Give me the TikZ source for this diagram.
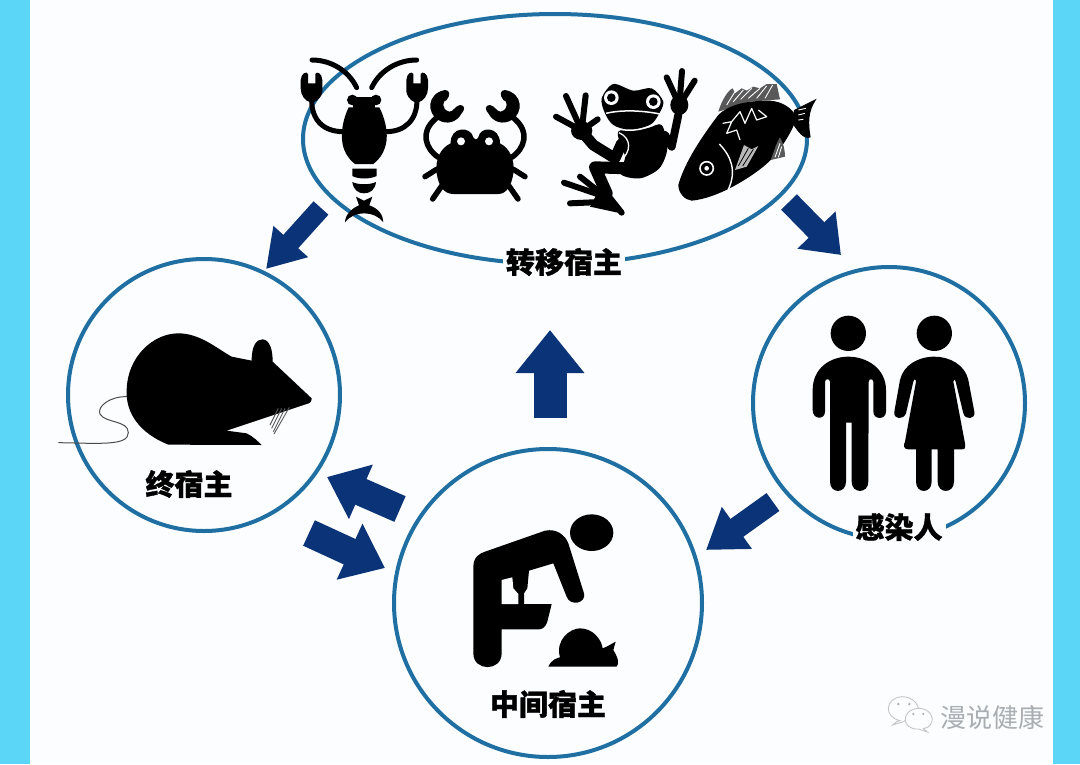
\documentclass[tikz,border=0pt]{standalone}
\usepackage{fontspec}
\newfontfamily\cjk[BoldFeatures={FakeBold=1.1}]{Noto Sans CJK SC}
\usetikzlibrary{arrows.meta}
\definecolor{bgpale}{HTML}{FBFDFE}
\definecolor{strip}{HTML}{5CD6F6}
\definecolor{ring}{HTML}{1F6FA3}
\definecolor{blockblue}{HTML}{0B3478}
\definecolor{wm}{HTML}{A9AEB3}
\tikzset{
  crop/.style 2 args={shift={(#1,#2)},x=.33333pt,y=-.33333pt},
  hostring/.style={circle,draw=ring,line width=4pt,inner sep=0pt},
  hostlabel/.style={font=\cjk\bfseries\fontsize{29}{29}\selectfont,text=black,inner sep=2pt},
  blockarrow/.style n args={3}{draw=blockblue,line width=#1,-{Triangle[length=#2,width=#3,fill=blockblue]}},
  limb/.style={draw=black,line cap=round,line join=round},
}
\begin{document}
\begin{tikzpicture}[x=1pt,y=-1pt]
\useasboundingbox (0,0) rectangle (1080,764);
\fill[bgpale] (0,0) rectangle (1080,764);
\fill[strip] (0,0) rectangle (30,764);
\fill[strip] (1053,0) rectangle (1080,764);

% hosts
\node[hostring,minimum size=272pt] (final) at (204,395) {};
\node[hostring,minimum size=272pt] (human) at (889,403) {};
\node[hostring,minimum size=308pt] (mid) at (548,603) {};
\draw[ring,line width=4pt] (555,139) ellipse [x radius=252,y radius=125];

% block arrows
\coordinate (a1s) at (321,208); \coordinate (a1e) at (266,269);
\coordinate (a2s) at (789,202); \coordinate (a2e) at (841,255);
\coordinate (a3s) at (550,418); \coordinate (a3e) at (550,330);
\coordinate (a4s) at (773,502); \coordinate (a4e) at (706,550);
\coordinate (a5s) at (400,509); \coordinate (a5e) at (327,477);
\coordinate (a6s) at (309,533); \coordinate (a6e) at (385,568);
\draw[blockarrow={20pt}{37pt}{44pt}] (a1s) -- (a1e);
\draw[blockarrow={22pt}{35pt}{51pt}] (a2s) -- (a2e);
\draw[blockarrow={33pt}{43pt}{66pt}] (a3s) -- (a3e);
\draw[blockarrow={22pt}{38pt}{49pt}] (a4s) -- (a4e);
\draw[blockarrow={28pt}{37pt}{57pt}] (a5s) -- (a5e);
\draw[blockarrow={28pt}{39pt}{59pt}] (a6s) -- (a6e);

% lobster and crab
\begin{scope}[crop={290}{50}]
  \fill (176,172) -- (268,172) .. controls (285,205) and (292,240) .. (290,268) .. controls (287,300) and (272,325) .. (250,342) -- (195,342) .. controls (173,325) and (158,300) .. (156,268) .. controls (154,240) and (160,205) .. (176,172) -- cycle;
  \fill (187,150) circle [radius=16];
  \fill (258,150) circle [radius=16];
  \fill (190,142) rectangle (255,175);
  \fill (187,356) -- (260,356) -- (260,378) .. controls (240,388) and (205,388) .. (187,378) -- cycle;
  \fill (187,396) .. controls (205,405) and (240,405) .. (258,396) .. controls (255,420) and (240,430) .. (222,430) .. controls (205,430) and (190,420) .. (187,396) -- cycle;
  \fill (198,440) -- (222,452) -- (247,440) -- (238,466) .. controls (265,475) and (280,495) .. (280,517) .. controls (265,498) and (245,490) .. (222,490) .. controls (200,490) and (180,498) .. (165,517) .. controls (165,495) and (185,475) .. (207,466) -- cycle;
  \draw[limb,line width=5pt] (200,113) .. controls (175,60) and (120,30) .. (66,30);
  \draw[limb,line width=5pt] (245,113) .. controls (270,60) and (325,30) .. (380,30);
  \draw[limb,line width=5pt] (160,245) .. controls (100,245) and (65,210) .. (65,150);
  \draw[limb,line width=5pt] (288,245) .. controls (345,245) and (381,210) .. (381,150);
  \fill (32,90) .. controls (33,70) and (50,62) .. (54,72) -- (54,100) -- (76,100) -- (76,72) .. controls (80,62) and (96,70) .. (97,90) -- (97,125) .. controls (92,150) and (72,158) .. (65,158) .. controls (45,155) and (32,135) .. (32,115) -- cycle;
  \begin{scope}[shift={(446,0)},xscale=-1]
    \fill (32,90) .. controls (33,70) and (50,62) .. (54,72) -- (54,100) -- (76,100) -- (76,72) .. controls (80,62) and (96,70) .. (97,90) -- (97,125) .. controls (92,150) and (72,158) .. (65,158) .. controls (45,155) and (32,135) .. (32,115) -- cycle;
  \end{scope}
  % crab
  \fill (440,370) .. controls (435,330) and (450,295) .. (482,280) .. controls (480,228) and (543,228) .. (550,262) .. controls (555,270) and (560,270) .. (565,262) .. controls (570,228) and (630,228) .. (630,280) .. controls (660,295) and (675,330) .. (670,370) .. controls (665,405) and (650,432) .. (625,432) -- (490,432) .. controls (460,432) and (445,405) .. (440,370) -- cycle;
  \fill[bgpale] (513,274) circle [radius=12];
  \fill[bgpale] (597,274) circle [radius=12];
  \draw[limb,line width=5.5pt] (445,322) .. controls (405,295) and (390,245) .. (438,205);
  \draw[limb,line width=5.5pt] (665,322) .. controls (705,295) and (720,245) .. (672,205);
  \draw[limb,line width=5.5pt] (405,380) -- (440,358);
  \draw[limb,line width=5.5pt] (428,447) -- (455,408);
  \draw[limb,line width=5.5pt] (705,380) -- (670,358);
  \draw[limb,line width=5.5pt] (684,447) -- (657,408);
  \fill (465,120) .. controls (480,120) and (482,135) .. (470,150) .. controls (458,150) and (452,178) .. (478,185) .. controls (490,185) and (495,168) .. (510,165) .. controls (526,165) and (525,180) .. (515,190) .. controls (500,218) and (470,225) .. (445,210) .. controls (410,190) and (410,130) .. (465,120) -- cycle;
  \fill (645,120) .. controls (630,120) and (628,135) .. (640,150) .. controls (652,150) and (658,178) .. (632,185) .. controls (620,185) and (615,168) .. (600,165) .. controls (584,165) and (585,180) .. (595,190) .. controls (610,218) and (640,225) .. (665,210) .. controls (700,190) and (700,130) .. (645,120) -- cycle;
\end{scope}

% frog and fish
\begin{scope}[crop={550}{60}]
  % frog
  \fill plot[smooth cycle] coordinates {(205,215)(290,205)(335,195)(352,265)(328,325)(270,355)(212,342)(225,290)};
  \draw[limb,line width=8pt] (345,225) -- (365,260) -- (385,165);
  \fill (388,135) ellipse [x radius=27,y radius=30];
  \draw[limb,line width=6pt] (388,135) -- (350,52);
  \draw[limb,line width=6pt] (388,135) -- (396,33);
  \draw[limb,line width=6pt] (388,135) -- (434,62);
  \draw[limb,line width=11pt] (215,250) -- (195,295) -- (130,255) -- (100,220);
  \fill (95,212) ellipse [x radius=32,y radius=28];
  \draw[limb,line width=6pt] (95,212) -- (48,108);
  \draw[limb,line width=6pt] (95,212) -- (107,106);
  \draw[limb,line width=6pt] (95,212) -- (18,170);
  \draw[limb,line width=6pt] (95,212) -- (143,178);
  \draw[limb,line width=12pt] (235,325) -- (135,322) -- (170,400);
  \draw[limb,line width=6pt] (165,395) -- (215,458);
  \draw[limb,line width=6pt] (165,410) -- (42,368);
  \draw[limb,line width=6pt] (165,410) -- (90,350);
  \draw[limb,line width=6pt] (175,425) -- (60,430);
  \fill (222,462) -- (150,385) -- (120,440) -- cycle;
  \draw[bgpale,line width=1.3pt] (207,218) .. controls (245,235) and (245,275) .. (210,305);
  \fill plot[smooth cycle] coordinates {(155,115)(190,72)(250,92)(305,85)(340,125)(325,165)(300,195)(240,210)(190,195)(165,160)};
  \draw[bgpale,line width=1.5pt] (168,160) .. controls (210,150) and (270,150) .. (330,162);
  \draw[bgpale,line width=1.5pt] (175,195) .. controls (215,218) and (275,215) .. (315,190);
  \fill[bgpale] (184,113) circle [radius=22];
  \fill[bgpale] (310,125) circle [radius=22];
  \fill (184,113) circle [radius=13];
  \fill (310,125) circle [radius=13];
  % fish
  \fill[black!65] (505,155) .. controls (515,120) and (535,90) .. (548,85) -- (555,100) -- (575,85) -- (590,92) -- (610,80) -- (630,85) -- (650,72) -- (680,72) -- (690,118) -- (600,125) -- cycle;
  \draw[bgpale,line width=.9pt] (530,135) -- (555,95) (550,125) -- (580,90) (572,118) -- (605,85) (595,115) -- (630,85) (620,115) -- (650,78) (645,115) -- (668,75);
  \fill (385,375) .. controls (400,320) and (440,250) .. (505,165) .. controls (540,130) and (600,122) .. (660,122) .. controls (700,125) and (725,145) .. (740,170) .. controls (735,200) and (690,280) .. (640,320) .. controls (590,360) and (500,415) .. (425,422) .. controls (405,420) and (385,400) .. (385,375) -- cycle;
  \fill (732,150) -- (800,116) .. controls (785,140) and (770,165) .. (782,232) .. controls (760,240) and (745,215) .. (730,195) -- cycle;
  \draw[bgpale,line width=.9pt] (745,150) -- (768,145) (745,165) -- (765,160) (745,180) -- (760,178);
  \fill[black!65] (662,300) .. controls (672,275) and (680,245) .. (690,232) .. controls (700,250) and (705,270) .. (705,290) -- cycle;
  \draw[bgpale,line width=.9pt] (675,292) -- (690,250) (685,292) -- (695,260);
  \draw[bgpale,line width=1.4pt] (508,252) .. controls (545,290) and (560,335) .. (535,388);
  \draw[bgpale,line width=1.6pt] (470,325) circle [radius=20];
  \fill[bgpale] (470,325) circle [radius=7];
  \fill[gray!55] (555,330) -- (582,255) -- (605,268) -- (625,258) -- (590,320) -- cycle;
  \draw[black,line width=.8pt] (565,318) -- (595,265) (578,318) -- (610,268);
  \draw[bgpale,line width=1.2pt,line join=round] (518,190) -- (545,185) -- (530,220) -- (560,210) -- (570,240) (545,185) -- (570,155) -- (585,190) -- (605,145) -- (620,180) -- (650,170) -- (625,150);
\end{scope}

% mouse
\begin{scope}[crop={50}{320}]
  \draw[black!70,line width=1pt] (232,230) .. controls (180,228) and (140,260) .. (150,282) .. controls (165,310) and (235,300) .. (235,338) .. controls (235,378) and (150,370) .. (25,368);
  \fill (355,374) .. controls (270,340) and (228,280) .. (230,215) .. controls (230,110) and (310,40) .. (385,40) .. controls (450,40) and (500,85) .. (545,110) -- (605,122) .. controls (605,75) and (620,58) .. (638,58) .. controls (660,60) and (668,90) .. (668,125) -- (785,235) .. controls (785,245) and (780,250) .. (770,252) -- (530,332) -- (590,340) .. controls (610,350) and (625,365) .. (635,375) -- cycle;
  \draw[black!65,line width=.9pt] (660,315) -- (685,265) (665,325) -- (695,265) (670,335) -- (705,265) (672,342) -- (718,262);
\end{scope}

% man and woman
\begin{scope}[crop={790}{300}]
  \fill (175,100) circle [radius=53];
  \fill (433,100) circle [radius=53];
  \fill (68,330) -- (68,270) .. controls (68,205) and (120,170) .. (175,170) .. controls (230,170) and (288,205) .. (288,270) -- (288,335) .. controls (288,360) and (250,360) .. (250,335) -- (250,245) .. controls (248,235) and (238,235) .. (236,245) -- (235,545) .. controls (235,582) and (185,582) .. (185,545) -- (185,368) -- (168,368) -- (168,545) .. controls (168,582) and (120,582) .. (120,545) -- (120,245) .. controls (118,235) and (107,235) .. (105,245) -- (105,335) .. controls (105,360) and (68,360) .. (68,330) -- cycle;
  \fill (313,335) -- (330,240) .. controls (340,195) and (385,170) .. (433,170) .. controls (480,170) and (525,195) .. (535,240) -- (553,335) .. controls (557,360) and (525,360) .. (520,340) -- (497,245) .. controls (495,236) and (490,238) .. (490,245) -- (525,430) .. controls (527,445) and (525,448) .. (515,448) -- (492,448) -- (492,545) .. controls (492,582) and (443,582) .. (443,545) -- (443,448) -- (425,448) -- (425,545) .. controls (425,582) and (378,582) .. (378,545) -- (378,448) -- (355,448) .. controls (340,448) and (340,435) .. (345,425) -- (378,245) .. controls (378,236) and (372,236) .. (370,245) -- (348,340) .. controls (340,360) and (310,360) .. (313,335) -- cycle;
\end{scope}

% person at sink with snail
\begin{scope}[crop={450}{500}]
  \fill (425,98) ellipse [x radius=65,y radius=55];
  \fill (70,200) .. controls (70,170) and (90,160) .. (105,155) -- (285,92) .. controls (320,85) and (345,105) .. (355,130) -- (402,280) .. controls (410,310) and (360,320) .. (350,290) -- (310,190) -- (237,212) -- (232,265) -- (222,280) -- (222,312) -- (305,312) -- (292,365) .. controls (285,385) and (275,388) .. (265,388) -- (155,388) -- (155,460) .. controls (155,515) and (70,515) .. (70,460) -- cycle;
  \fill[bgpale] (155,240) -- (187,232) -- (190,265) -- (205,282) -- (205,312) -- (155,312) -- cycle;
  \fill (295,500) .. controls (305,478) and (320,475) .. (330,472) .. controls (315,420) and (360,385) .. (390,385) .. controls (430,385) and (455,420) .. (458,445) -- (470,440) -- (497,425) -- (490,450) .. controls (505,475) and (508,490) .. (500,500) -- cycle;
\end{scope}

% labels
\node[hostlabel,fill=bgpale,inner xsep=3pt] (ltrans) at (564,262) {转移宿主};
\node[hostlabel] (lfinal) at (189,484) {终宿主};
\node[hostlabel,fill=bgpale,inner xsep=3pt] (lhuman) at (899,527) {感染人};
\node[hostlabel] (lmid) at (548,704) {中间宿主};

% watermark
\begin{scope}[crop={880}{680}]
  \draw[wm!70,line width=.9pt,fill=bgpale] (50,125) -- (60,122) .. controls (10,110) and (15,55) .. (65,50) .. controls (100,50) and (120,75) .. (115,100) -- (70,125) -- (38,135) -- cycle;
  \draw[wm!70,line width=.9pt,fill=bgpale] (115,147) .. controls (65,150) and (60,90) .. (115,85) .. controls (165,85) and (170,140) .. (130,146) -- (142,156) -- cycle;
  \fill[wm] (55,72) circle [radius=4] (88,72) circle [radius=4] (100,102) circle [radius=3.5] (130,102) circle [radius=3.5];
\end{scope}
\node[font=\cjk\fontsize{26}{26}\selectfont,text=wm,inner sep=0pt] (wmtext) at (992,717) {漫说健康};
\end{tikzpicture}
\end{document}
